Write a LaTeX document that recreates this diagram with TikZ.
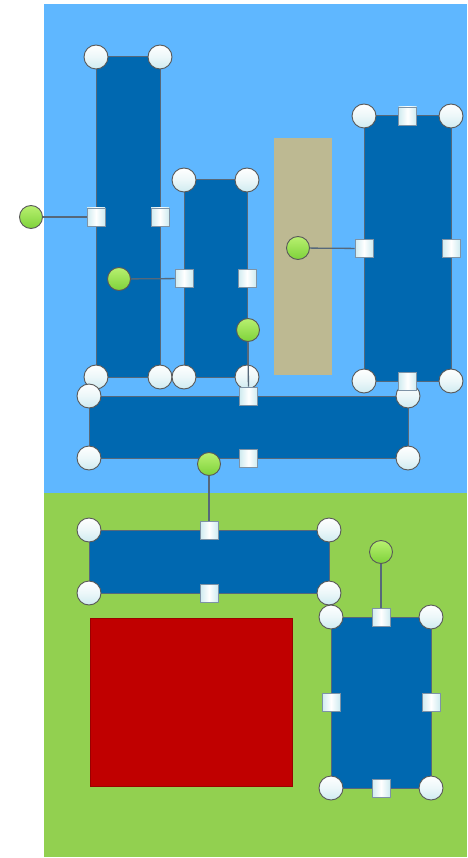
\documentclass[tikz,border=0pt]{standalone}
\definecolor{skyb}{HTML}{5FB7FF}
\definecolor{grassg}{HTML}{92D050}
\definecolor{darkb}{HTML}{0068B0}
\definecolor{edgeg}{HTML}{56687A}
\definecolor{tanc}{HTML}{BDB992}
\definecolor{redc}{HTML}{C00000}
\definecolor{hcyan}{HTML}{CFEBF0}
\definecolor{sqedge}{HTML}{7E93A6}
\definecolor{gtop}{HTML}{B8F070}
\definecolor{gbot}{HTML}{7ED23A}
\tikzset{
  bluebox/.style={draw=edgeg, line width=1pt, fill=darkb, inner sep=0pt, outer sep=0pt},
  plainbox/.style={inner sep=0pt, outer sep=0pt},
  hc/.style={circle, draw=gray!70!black, line width=0.9pt, top color=white, bottom color=hcyan, middle color=white!60!hcyan, minimum size=24pt, inner sep=0pt},
  hs/.style={rectangle, draw=sqedge, line width=0.9pt, left color=hcyan, right color=hcyan, middle color=white, minimum size=18pt, inner sep=0pt},
  hg/.style={circle, draw=gray!70!black, line width=0.9pt, top color=gtop, bottom color=gbot, minimum size=23pt, inner sep=0pt},
  hline/.style={draw=edgeg, line width=1.3pt}
}
\begin{document}
\begin{tikzpicture}[x=1pt,y=-1pt]
\useasboundingbox (0,0) rectangle (467,858);
% backgrounds
\fill[white] (0,0) rectangle (467,858);
\fill[skyb] (44,4) rectangle (467,493);
\fill[grassg] (44,493) rectangle (467,857);
% shapes
\node[bluebox, minimum width=64pt, minimum height=320pt] (r1) at (128,217) {};
\node[bluebox, minimum width=63pt, minimum height=197pt] (r2) at (215.5,278.5) {};
\node[plainbox, fill=tanc, minimum width=58pt, minimum height=237pt] (tan) at (303,256.5) {};
\node[bluebox, minimum width=87pt, minimum height=265pt] (r6) at (407.5,248.5) {};
\node[bluebox, minimum width=319pt, minimum height=62pt] (wide) at (248.5,427) {};
\node[bluebox, minimum width=240pt, minimum height=63pt] (r4) at (209,561.5) {};
\node[plainbox, fill=redc, draw=redc!80!black, line width=0.5pt, minimum width=202pt, minimum height=168pt] (red) at (191,702) {};
\node[bluebox, minimum width=100pt, minimum height=171pt] (r5) at (381,702.5) {};
% handles r1
\foreach \a/\n in {north west/nw, north east/ne, south west/sw, south east/se}
  \node[hc] (r1\n) at (r1.\a) {};
\node[hs] (r1w) at (r1.west) {};
\node[hs] (r1e) at (r1.east) {};
% handles r2
\foreach \a/\n in {north west/nw, north east/ne, south west/sw, south east/se}
  \node[hc] (r2\n) at (r2.\a) {};
\node[hs] (r2w) at (r2.west) {};
\node[hs] (r2e) at (r2.east) {};
% handles wide
\foreach \a/\n in {north west/nw, north east/ne, south west/sw, south east/se}
  \node[hc] (wd\n) at (wide.\a) {};
\node[hs] (wdn) at (wide.north) {};
\node[hs] (wds) at (wide.south) {};
% handles r6
\foreach \a/\n in {north west/nw, north east/ne, south west/sw, south east/se}
  \node[hc] (r6\n) at (r6.\a) {};
\node[hs] (r6n) at (r6.north) {};
\node[hs] (r6s) at (r6.south) {};
\node[hs] (r6w) at (r6.west) {};
\node[hs] (r6e) at (r6.east) {};
% handles r4
\foreach \a/\n in {north west/nw, north east/ne, south west/sw, south east/se}
  \node[hc] (r4\n) at (r4.\a) {};
\node[hs] (r4n) at (r4.north) {};
\node[hs] (r4s) at (r4.south) {};
% handles r5
\foreach \a/\n in {north west/nw, north east/ne, south west/sw, south east/se}
  \node[hc] (r5\n) at (r5.\a) {};
\node[hs] (r5n) at (r5.north) {};
\node[hs] (r5s) at (r5.south) {};
\node[hs] (r5w) at (r5.west) {};
\node[hs] (r5e) at (r5.east) {};
% rotation handles
\node[hg] (g1) at (31,217) {};
\node[hg] (g2) at (119,279) {};
\node[hg] (g6) at (298,248) {};
\node[hg] (gw) at (248,330) {};
\node[hg] (g4) at (209,464) {};
\node[hg] (g5) at (381,552) {};
% connectors
\draw[hline] (g1) -- (r1w);
\draw[hline] (g2) -- (r2w);
\draw[hline] (g6) -- (r6w);
\draw[hline] (gw) -- (wdn);
\draw[hline] (g4) -- (r4n);
\draw[hline] (g5) -- (r5n);
\end{tikzpicture}
\end{document}
